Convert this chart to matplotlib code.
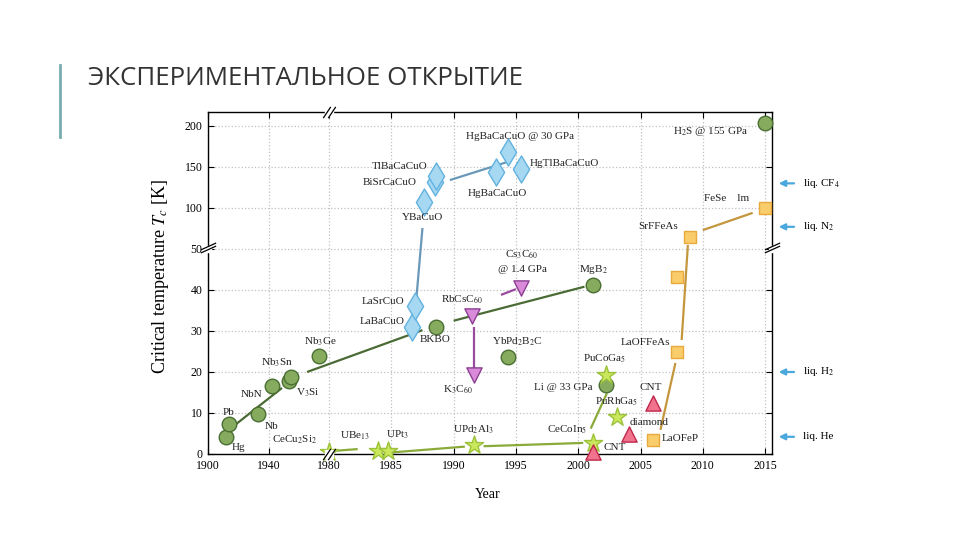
#!/usr/bin/env python3
"""
Timeline of superconductor discoveries (critical temperature vs year),
with broken x and y axes, on a slide with a Russian title.
"""

import numpy as np
import matplotlib
matplotlib.use("Agg")
import matplotlib.pyplot as plt
from matplotlib.path import Path

# ---- data ----
conv_years = [1911.9, 1913.9, 1933.0, 1942.0, 1953.5, 1955.0, 1973.4, 1988.6, 1994.4, 2001.2, 2002.2, 2015.0]
conv_tc = [4.2, 7.3, 9.8, 16.6, 17.8, 18.8, 23.9, 31.0, 23.7, 41.2, 16.8, 203.0]

cuprate_years = [1986.7, 1986.9, 1987.6, 1988.5, 1988.6, 1993.4, 1994.4, 1995.4]
cuprate_tc = [31.0, 36.0, 107.0, 131.5, 139.0, 144.0, 168.0, 147.5]

fullerene_years = [1991.5, 1991.6, 1995.4]
fullerene_tc = [33.7, 19.3, 40.5]

heavy_years = [1979.9, 1983.9, 1984.7, 1991.6, 2001.2, 2003.1, 2002.2]
heavy_tc = [0.6, 0.8, 0.7, 2.2, 2.6, 9.0, 19.2]

carbon_years = [2001.2, 2004.1, 2006.0]
carbon_tc = [0.5, 4.9, 12.4]

iron_years = [2006.0, 2007.9, 2007.9, 2009.0, 2015.0]
iron_tc = [3.4, 24.9, 43.2, 64.6, 100.0]

# trend line segments: (years, tc)
conv_lines = [([1917.9, 1948.9], [7.1, 16.1]),
              ([1965.5, 1987.5], [20.0, 30.2]),
              ([1990.0, 2000.5], [32.5, 40.8])]
cuprate_lines = [([1987.0, 1987.5], [37.6, 75.6]),
                 ([1989.7, 1994.3], [134.0, 156.0])]
fullerene_lines = [([1991.6, 1991.6], [31.0, 20.5]),
                   ([1993.8, 1995.0], [38.8, 40.2])]
heavy_lines = [([1980.6, 1982.3], [0.8, 1.2]),
               ([1985.1, 1990.9], [0.4, 1.8]),
               ([1992.4, 2000.4], [1.9, 2.7]),
               ([2001.0, 2002.3], [6.2, 14.8])]
iron_lines = [([2006.6, 2007.8], [5.9, 22.2]),
              ([2008.3, 2008.8], [27.8, 54.9]),
              ([2010.0, 2014.0], [73.0, 94.0])]

liquids = ["liq. CF$_4$", "liq. N$_2$", "liq. H$_2$", "liq. He"]
liquid_tc = [130.0, 77.0, 20.0, 4.2]

x_ticks = [1900, 1940, 1980, 1985, 1990, 1995, 2000, 2005, 2010, 2015]
y_ticks = [0, 10, 20, 30, 40, 50, 100, 150, 200]


# ---- broken (piecewise linear) scales ----
def fwd_x(x):
    x = np.asarray(x, dtype=float)
    return np.where(x <= 1980, (x - 1900) * 121 / 80, 121 + (x - 1980) * 12.46)


def inv_x(u):
    u = np.asarray(u, dtype=float)
    return np.where(u <= 121, 1900 + u * 80 / 121, 1980 + (u - 121) / 12.46)


def fwd_y(y):
    y = np.asarray(y, dtype=float)
    return np.where(y <= 50, y * 4.1, 205 + (y - 50) * 0.82)


def inv_y(v):
    v = np.asarray(v, dtype=float)
    return np.where(v <= 205, v / 4.1, 50 + (v - 205) / 0.82)


plt.rcParams["font.family"] = ["Liberation Serif", "DejaVu Serif"]
plt.rcParams["mathtext.fontset"] = "stix"

fig = plt.figure(figsize=(9.6, 5.4), dpi=100)
ax = fig.add_axes([208 / 960, 86 / 540, 564 / 960, 342 / 540])
ax.set_xscale("function", functions=(fwd_x, inv_x))
ax.set_yscale("function", functions=(fwd_y, inv_y))
ax.set_xlim(1900, 2015.55)
ax.set_ylim(0, 217)
ax.set_xticks(x_ticks)
ax.set_xticklabels([str(t) for t in x_ticks])
ax.set_yticks(y_ticks)
ax.set_yticklabels([str(t) for t in y_ticks])
ax.minorticks_off()
ax.tick_params(direction="in", top=True, right=True, length=4, labelsize=8.5, pad=4)
ax.grid(True, linestyle=":", color="#c0c0c0", linewidth=0.9)
for s in ax.spines.values():
    s.set_linewidth(1.0)

ax.set_xlabel("Year", fontsize=10)
ax.xaxis.set_label_coords(0.495, -0.1)
ax.set_ylabel("Critical temperature $T_c$ [K]", fontsize=13)
ax.yaxis.set_label_coords(-0.065, 0.52)

# trend lines
for segs, col in [(conv_lines, "#4b6b35"), (cuprate_lines, "#6a98b8"),
                  (fullerene_lines, "#9a4aa0"), (heavy_lines, "#8aaa3a"),
                  (iron_lines, "#c4963e")]:
    for xs, ys in segs:
        ax.plot(xs, ys, color=col, linewidth=1.6, solid_capstyle="butt", zorder=2)

# markers
ax.scatter(conv_years, conv_tc, s=110, marker="o", facecolor="#86ab5e", edgecolor="#4a6f32", linewidth=1.0, zorder=4, clip_on=False)
ax.scatter(cuprate_years, cuprate_tc, s=190, marker="d", facecolor="#a6d8f2", edgecolor="#62b2e0", linewidth=1.0, zorder=4)
ax.scatter(fullerene_years, fullerene_tc, s=120, marker="v", facecolor="#d98ad9", edgecolor="#8c3f92", linewidth=1.0, zorder=4)
ax.scatter(heavy_years, heavy_tc, s=190, marker="*", facecolor="#cbe85c", edgecolor="#9cc23c", linewidth=1.0, zorder=4, clip_on=False)
ax.scatter(carbon_years, carbon_tc, s=120, marker="^", facecolor="#f0728c", edgecolor="#c0284a", linewidth=1.0, zorder=4, clip_on=False)
ax.scatter(iron_years, iron_tc, s=70, marker="s", facecolor="#f9cd6c", edgecolor="#e9a93c", linewidth=1.0, zorder=4, clip_on=False)

# point labels: text, x, y, horizontal alignment
labels = [
    ("Hg", 1915.5, 1.5, "left"), ("Pb", 1913.9, 10.2, "center"),
    ("Nb", 1942.3, 6.6, "center"), ("NbN", 1929.0, 14.6, "center"),
    ("V$_3$Si", 1966.0, 14.9, "center"), ("Nb$_3$Sn", 1945.6, 22.2, "center"),
    ("Nb$_3$Ge", 1974.0, 27.3, "center"), ("LaSrCuO", 1984.3, 37.3, "center"),
    ("LaBaCuO", 1984.3, 32.2, "center"), ("BKBO", 1988.5, 27.8, "center"),
    ("CeCu$_2$Si$_2$", 1957.5, 3.4, "center"), ("UBe$_{13}$", 1982.1, 4.4, "center"),
    ("UPt$_3$", 1985.5, 4.6, "center"), ("UPd$_2$Al$_3$", 1991.6, 5.9, "center"),
    ("RbCsC$_{60}$", 1990.7, 37.6, "center"), ("K$_3$C$_{60}$", 1990.3, 15.6, "center"),
    ("Cs$_3$C$_{60}$", 1995.5, 48.5, "center"), ("@ 1.4 GPa", 1995.5, 44.9, "center"),
    ("MgB$_2$", 2001.2, 44.9, "center"), ("YbPd$_2$B$_2$C", 1995.1, 27.3, "center"),
    ("PuCoGa$_5$", 2002.1, 23.2, "center"), ("Li @ 33 GPa", 1998.8, 16.1, "center"),
    ("CNT", 2005.8, 16.1, "center"), ("PuRhGa$_5$", 2003.1, 12.7, "center"),
    ("diamond", 2005.7, 7.6, "center"), ("CeCoIn$_5$", 1999.1, 5.9, "center"),
    ("CNT", 2002.9, 1.7, "center"), ("LaOFeP", 2008.2, 3.7, "center"),
    ("LaOFFeAs", 2005.4, 27.3, "center"), ("SrFFeAs", 2006.4, 76.8, "center"),
    ("FeSe    lm", 2011.9, 112.0, "center"), ("H$_2$S @ 155 GPa", 2010.6, 192.7, "center"),
    ("HgBaCaCuO @ 30 GPa", 1995.3, 186.6, "center"), ("HgTlBaCaCuO", 1996.1, 153.7, "left"),
    ("HgBaCaCuO", 1993.5, 118.0, "center"), ("TlBaCaCuO", 1985.7, 151.0, "center"),
    ("BiSrCaCuO", 1984.9, 130.5, "center"), ("YBaCuO", 1987.5, 87.8, "center"),
]
for txt, lx, ly, ha in labels:
    ax.text(lx, ly, txt, fontsize=8, ha=ha, va="center", color="#222222", zorder=5)

# cryogen arrows on the right
ytr = ax.get_yaxis_transform()
for name, tc in zip(liquids, liquid_tc):
    ax.annotate("", xy=(1.007, tc), xytext=(1.044, tc), xycoords=ytr, textcoords=ytr,
                arrowprops=dict(arrowstyle="-|>", color="#4aa8dc", lw=1.6, mutation_scale=9),
                annotation_clip=False)
    ax.text(1.055, tc, name, transform=ytr, fontsize=8, va="center", ha="left", clip_on=False)

# axis break marks
slash = Path([(-1.0, -0.9), (0.2, 0.9), (-0.2, -0.9), (1.0, 0.9)],
             [Path.MOVETO, Path.LINETO, Path.MOVETO, Path.LINETO])
flat = Path([(-1.0, -0.45), (1.0, 0.45), (-1.0, -0.05), (1.0, 0.85)],
            [Path.MOVETO, Path.LINETO, Path.MOVETO, Path.LINETO])
xtr = ax.get_xaxis_transform()
ax.plot([1980, 1980], [1, 0], transform=xtr, marker="s", ms=6, color="white", ls="none", clip_on=False, zorder=6)
ax.plot([1980, 1980], [1, 0], transform=xtr, marker=slash, ms=9, mec="black", mew=0.9, ls="none", clip_on=False, zorder=7)
ax.plot([0, 1], [50, 50], transform=ytr, marker="s", ms=5, color="white", ls="none", clip_on=False, zorder=6)
ax.plot([0, 1], [50, 50], transform=ytr, marker=flat, ms=11, mec="black", mew=0.9, ls="none", clip_on=False, zorder=7)

# slide title and accent bar
fig.text(88 / 960, 1 - 85 / 540, "ЭКСПЕРИМЕНТАЛЬНОЕ ОТКРЫТИЕ", fontsize=18.6,
         family=["Open Sans", "DejaVu Sans"], fontweight="normal",
         color="#333333", va="baseline", ha="left")
fig.add_artist(plt.Line2D([60 / 960, 60 / 960], [1 - 65 / 540, 1 - 137 / 540],
                          color="#7aacb0", linewidth=2.0))

fig.savefig("out.png", dpi=100)
print("Saved out.png")
